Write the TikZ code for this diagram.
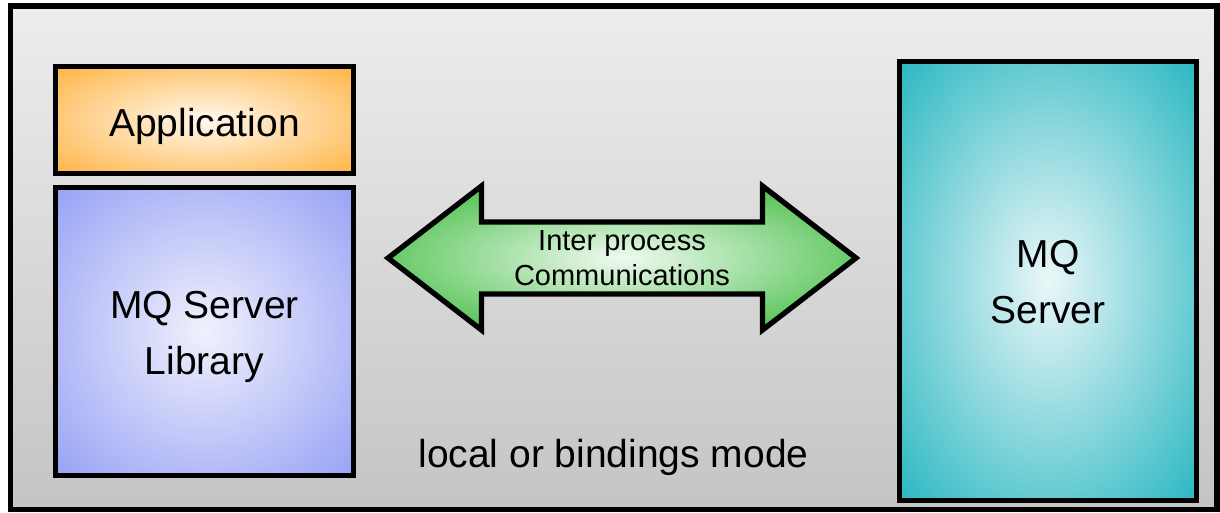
\documentclass[tikz,border=0pt]{standalone}
\usepackage{fontspec}
\setmainfont{Liberation Sans}
\usepackage{xcolor}
\usepackage{tikz}
\usetikzlibrary{calc}
\definecolor{appout}{HTML}{FFB547}
\definecolor{appin}{HTML}{FFF8EE}
\definecolor{libout}{HTML}{99A3F5}
\definecolor{libin}{HTML}{F0F1FC}
\definecolor{srvout}{HTML}{2DB8C2}
\definecolor{srvin}{HTML}{EAF7F8}
\definecolor{ipcout}{HTML}{4CC04C}
\definecolor{ipcin}{HTML}{F0FAF0}
\pgfdeclareradialshading{appglow}{\pgfpoint{0bp}{0bp}}{color(0bp)=(appin); color(35bp)=(appout); color(50bp)=(appout)}
\pgfdeclareradialshading{libglow}{\pgfpoint{0bp}{0bp}}{color(0bp)=(libin); color(35bp)=(libout); color(50bp)=(libout)}
\pgfdeclareradialshading{srvglow}{\pgfpoint{0bp}{0bp}}{color(0bp)=(srvin); color(35bp)=(srvout); color(50bp)=(srvout)}
\pgfdeclareradialshading{ipcglow}{\pgfpoint{0bp}{0bp}}{color(0bp)=(ipcin); color(30bp)=(ipcout); color(50bp)=(ipcout)}
\tikzstyle{frame} = [line width=5.3pt, draw=black, top color=black!7, bottom color=black!23]
\tikzstyle{box} = [rectangle, line width=5.3pt, draw=black, inner sep=0pt, minimum width=297.4pt]
\tikzstyle{appbox} = [box, minimum height=106.5pt, shading=appglow]
\tikzstyle{libbox} = [box, minimum height=287.7pt, shading=libglow]
\tikzstyle{serverbox} = [box, minimum height=439.6pt, shading=srvglow]
\tikzstyle{ipcarrow} = [line width=5.3pt, draw=black, shading=ipcglow]
\tikzstyle{boxtext} = [align=center, inner sep=0pt, font=\fontsize{39}{56}\selectfont]
\tikzstyle{ipctext} = [align=center, inner sep=0pt, font=\fontsize{29}{35}\selectfont]

\begin{document}
\begin{tikzpicture}[x=1pt, y=-1pt]
    \useasboundingbox (0,0) rectangle (1220,512);
    \draw [frame] (10.3,6) rectangle (1217,509.5);

    % Nodes
    \node (app) [appbox] at (204.5,120) {};
    \node (lib) [libbox] at (204.5,331.4) {};
    \node (srv) [serverbox, minimum width=297.6pt] at (1048,281) {};
    \coordinate (ipc) at (622,258);

    \node (apptext) [boxtext] at ($(app)+(0,6.8)$) {Application};
    \node (libtext) [boxtext] at ($(lib)+(0,5.3)$) {MQ Server\\Library};
    \node (srvtext) [boxtext] at ($(srv)+(0,1)$) {MQ\\Server};
    \node (mode) [boxtext] at (613.5,457) {local or bindings mode};

    % Arrow
    \draw [ipcarrow] ($(ipc)+(-234,0)$) -- ++(93.5,-72) -- ++(0,36) -- ++(281,0)
        -- ++(0,-36) -- ++(93.5,72) -- ++(-93.5,72) -- ++(0,-36) -- ++(-281,0)
        -- ++(0,36) -- cycle;
    \node (ipctext) [ipctext] at (ipc) {Inter process\\Communications};

\end{tikzpicture}
\end{document}
